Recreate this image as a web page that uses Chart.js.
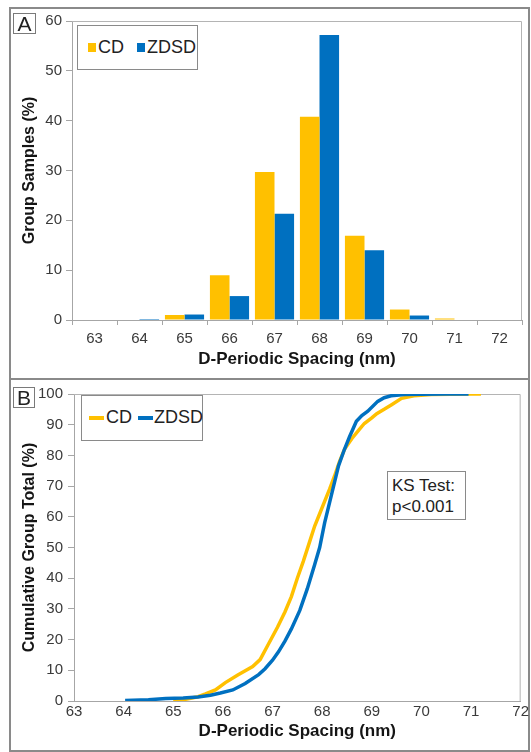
<!DOCTYPE html>
<html>
<head>
<meta charset="utf-8">
<script src="https://cdn.jsdelivr.net/npm/chart.js@4/dist/chart.umd.min.js"></script>
<style>
html,body{margin:0;padding:0;background:#fff;width:531px;height:752px;overflow:hidden;font-family:Arial,"Liberation Sans",sans-serif;}
.panel{position:absolute;border:2px solid #8a8a8a;box-sizing:border-box;}
.cv{position:absolute;}
.tag{position:absolute;border:1px solid #7a7a7a;box-sizing:border-box;font-size:21px;line-height:19px;text-align:center;color:#222;background:#fff;}
.legend{position:absolute;border:1px solid #8a8a8a;box-sizing:border-box;background:#fff;font-size:18px;color:#222;}
.legend span{position:absolute;}
.ks{position:absolute;border:1px solid #8a8a8a;box-sizing:border-box;background:#fff;font-size:17px;line-height:21px;color:#222;padding:3px 0 0 4px;}
</style>
</head>
<body>
<div class="panel" style="left:9px;top:7px;width:521px;height:373px;"></div>
<div class="panel" style="left:9px;top:378px;width:521px;height:374px;"></div>
<canvas id="cA" class="cv" style="left:10px;top:8px;" width="518" height="370"></canvas>
<canvas id="cB" class="cv" style="left:10px;top:380px;" width="521" height="370"></canvas>
<div class="tag" style="left:13px;top:13px;width:23px;height:21px;">A</div>
<div class="tag" style="left:13px;top:387px;width:22px;height:21px;">B</div>
<div id="legA" class="legend" style="left:77px;top:25px;width:121px;height:45px;"></div>
<div id="legB" class="legend" style="left:81px;top:395px;width:122px;height:46px;"></div>
<div class="ks" style="left:387px;top:471px;width:79px;height:49px;">KS Test:<br>p&lt;0.001</div>
<script>
// ---------- Panel A: histogram ----------
const categories = ['63','64','65','66','67','68','69','70','71','72'];
const cdPct   = [0, 0.1, 1.0, 9.0, 29.7, 40.8, 16.9, 2.1, 0.3, 0];
const zdsdPct = [0, 0.2, 1.1, 4.8, 21.3, 57.2, 14.0, 0.9, 0.1, 0];

// ---------- Panel B: cumulative distributions ----------
const cdSpacing = [65.0, 65.25, 65.5, 65.65, 65.85, 66.05, 66.3, 66.6, 66.75, 66.9, 67.1, 67.25, 67.38, 67.5, 67.62, 67.75, 67.85, 67.95, 68.05, 68.15, 68.25, 68.35, 68.45, 68.6, 68.75, 68.85, 69.0, 69.1, 69.25, 69.4, 69.6, 69.85, 70.2, 70.6, 71.0, 71.2];
const cdCum     = [0.1, 0.6, 1.4, 2.3, 3.6, 6.0, 8.5, 11.2, 13.5, 18.0, 24.0, 29.0, 34.0, 40.0, 45.5, 52.0, 57.0, 61.0, 65.0, 69.0, 73.3, 78.0, 82.0, 85.5, 88.5, 90.4, 92.2, 93.6, 95.0, 96.5, 98.6, 99.4, 99.8, 99.9, 100, 100];
const zdsdSpacing = [64.03, 64.5, 64.85, 65.2, 65.5, 65.75, 65.95, 66.2, 66.45, 66.72, 66.85, 67.0, 67.12, 67.25, 67.38, 67.55, 67.7, 67.85, 67.95, 68.05, 68.19, 68.33, 68.45, 68.55, 68.69, 68.8, 68.92, 69.12, 69.25, 69.39, 69.66, 70.0, 70.5, 70.95];
const zdsdCum     = [0.2, 0.4, 0.8, 1.0, 1.3, 1.9, 2.6, 3.6, 5.7, 8.6, 10.5, 13.3, 16.0, 19.5, 23.5, 29.5, 36.5, 44.5, 50.0, 58.0, 67.3, 76.6, 82.0, 86.0, 91.1, 93.0, 94.4, 97.6, 98.8, 99.4, 99.8, 99.9, 100, 100];

const seriesNames = ['CD', 'ZDSD'];
const seriesColors = ['#FFC000', '#0070C0'];

const axisGray = '#a6a6a6';
const tickColor = '#3a3a3a';
const titleColor = '#151515';
const fontFamily = 'Arial, "Liberation Sans", sans-serif';
Chart.defaults.font.family = fontFamily;

const frame = {
  id: 'frame',
  beforeDatasetsDraw(chart) {
    const {ctx, chartArea: a} = chart;
    ctx.save();
    ctx.strokeStyle = '#b4b4b4';
    ctx.lineWidth = 1;
    ctx.beginPath();
    ctx.moveTo(a.left, a.top + 0.5);
    ctx.lineTo(a.right - 0.5, a.top + 0.5);
    ctx.lineTo(a.right - 0.5, a.bottom);
    ctx.stroke();
    ctx.restore();
  }
};

new Chart(document.getElementById('cA'), {
  type: 'bar',
  data: {
    labels: categories,
    datasets: [
      {label: seriesNames[0], data: cdPct, backgroundColor: seriesColors[0], categoryPercentage: 0.87, barPercentage: 1.0},
      {label: seriesNames[1], data: zdsdPct, backgroundColor: seriesColors[1], categoryPercentage: 0.87, barPercentage: 1.0}
    ]
  },
  options: {
    responsive: false, animation: false, devicePixelRatio: 1,
    layout: {padding: {left: 0, top: 12, right: 6, bottom: 0}},
    plugins: {legend: {display: false}, tooltip: {enabled: false}},
    scales: {
      x: {
        grid: {display: true, drawOnChartArea: false, tickLength: 5, color: axisGray, offset: true},
        border: {color: axisGray},
        ticks: {font: {size: 15}, color: tickColor, padding: 5, maxRotation: 0},
        title: {display: true, text: 'D-Periodic Spacing (nm)', font: {size: 17, weight: 'bold'}, color: titleColor, padding: {top: 0, bottom: 8}},
        afterFit(s) { s.height = 58; }
      },
      y: {
        min: 0, max: 60,
        ticks: {stepSize: 10, font: {size: 15}, color: tickColor, padding: 4},
        grid: {drawOnChartArea: false, tickLength: 6, color: axisGray},
        border: {color: axisGray},
        title: {display: true, text: 'Group Samples (%)', font: {size: 16, weight: 'bold'}, color: titleColor, padding: {top: 10, bottom: 0}},
        afterFit(s) { s.width = 62; }
      }
    }
  },
  plugins: [frame]
});

new Chart(document.getElementById('cB'), {
  type: 'line',
  data: {
    datasets: [
      {label: seriesNames[0], data: cdSpacing.map((x, i) => ({x: x, y: cdCum[i]})), borderColor: seriesColors[0], borderWidth: 3.5, pointRadius: 0, tension: 0, fill: false, order: 1},
      {label: seriesNames[1], data: zdsdSpacing.map((x, i) => ({x: x, y: zdsdCum[i]})), borderColor: seriesColors[1], borderWidth: 3.5, pointRadius: 0, tension: 0, fill: false, order: 0}
    ]
  },
  options: {
    responsive: false, animation: false, devicePixelRatio: 1,
    layout: {padding: {left: 0, top: 12, right: 8, bottom: 0}},
    plugins: {legend: {display: false}, tooltip: {enabled: false}},
    scales: {
      x: {
        type: 'linear', min: 63, max: 72,
        grid: {drawOnChartArea: false, drawTicks: false, color: axisGray},
        border: {color: axisGray},
        ticks: {stepSize: 1, font: {size: 15}, color: tickColor, padding: 2, maxRotation: 0},
        title: {display: true, text: 'D-Periodic Spacing (nm)', font: {size: 17, weight: 'bold'}, color: titleColor, padding: {top: 0, bottom: 8}},
        afterFit(s) { s.height = 49; }
      },
      y: {
        min: 0, max: 100,
        ticks: {stepSize: 10, font: {size: 15}, color: tickColor, padding: 5},
        grid: {drawOnChartArea: false, tickLength: 6, color: axisGray},
        border: {color: axisGray},
        title: {display: true, text: 'Cumulative Group Total (%)', font: {size: 16, weight: 'bold'}, color: titleColor, padding: {top: 10, bottom: 0}},
        afterFit(s) { s.width = 64; }
      }
    }
  },
  plugins: [frame]
});

// HTML legends built from the series names/colours
function buildLegend(id, kind, pos) {
  const el = document.getElementById(id);
  seriesNames.forEach((name, i) => {
    const p = pos[i];
    const mk = document.createElement('span');
    if (kind === 'square') {
      mk.style.cssText = `left:${p.mx}px;top:17px;width:8px;height:9px;background:${seriesColors[i]};`;
    } else {
      mk.style.cssText = `left:${p.mx}px;top:20px;width:15px;height:4px;background:${seriesColors[i]};`;
    }
    el.appendChild(mk);
    const t = document.createElement('span');
    t.textContent = name;
    t.style.cssText = `left:${p.tx}px;top:11px;line-height:20px;`;
    el.appendChild(t);
  });
}
buildLegend('legA', 'square', [{mx: 10, tx: 20}, {mx: 59, tx: 69}]);
buildLegend('legB', 'line', [{mx: 7, tx: 24}, {mx: 56, tx: 72}]);
</script>
</body>
</html>
